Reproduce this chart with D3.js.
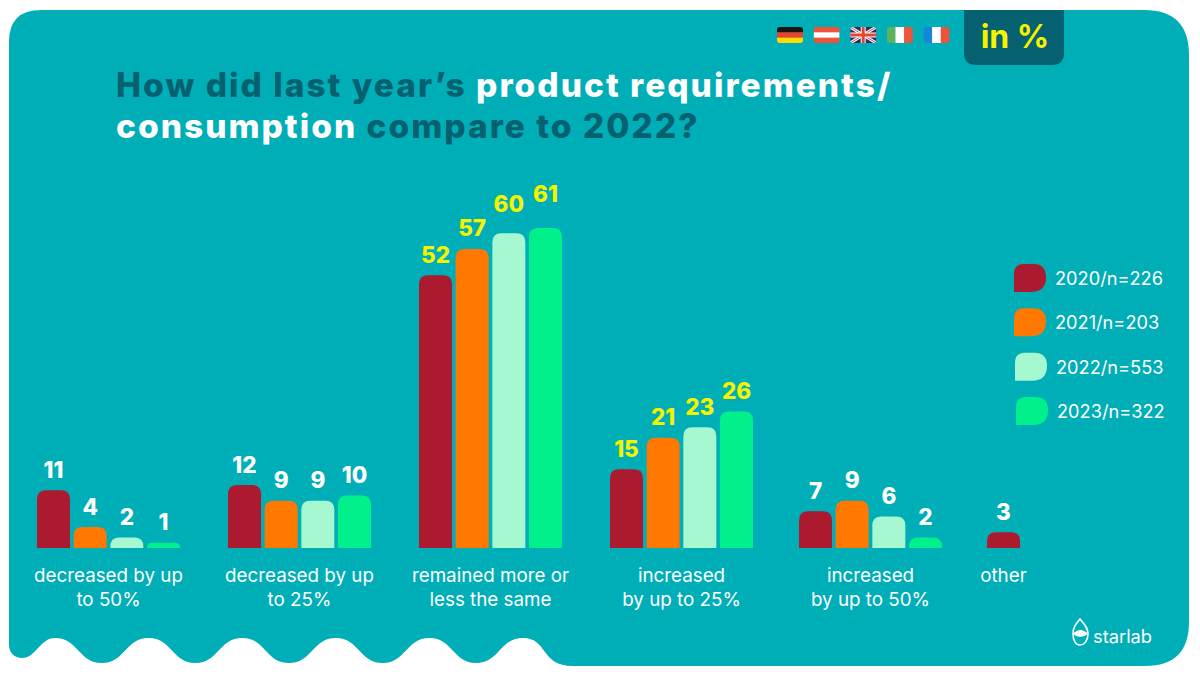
<!DOCTYPE html>
<html><head><meta charset="utf-8">
<script src="https://cdnjs.cloudflare.com/ajax/libs/d3/7.8.5/d3.min.js"></script>
<style>html,body{margin:0;padding:0;background:#fff}svg{display:block}</style>
</head><body><svg id="c" width="1200" height="675"></svg>
<script>
const categories = [["decreased by up","to 50%"],["decreased by up","to 25%"],["remained more or","less the same"],["increased","by up to 25%"],["increased","by up to 50%"],["other"]];
const years = ["2020/n=226","2021/n=203","2022/n=553","2023/n=322"];
const v2020 = [11,12,52,15,7,3];
const v2021 = [4,9,57,21,9,null];
const v2022 = [2,9,60,23,6,null];
const v2023 = [1,10,61,26,2,null];
const seriesValues = [v2020,v2021,v2022,v2023];
const colors = ["#AC1A2F","#FF7800","#A5F8CF","#00F18B"];
const flagsList = ["de","at","uk","it","fr"];
const highlighted = [2,3];

const svg = d3.select("#c");
const BG="#00AEB8", DARK="#05606F", YEL="#F4F400";
const TF="Inter, sans-serif", LF="Inter, sans-serif";

// panel with wavy bottom edge
let p = d3.path();
p.moveTo(9,42); p.quadraticCurveTo(9,10,41,10); p.lineTo(1144,10); p.quadraticCurveTo(1189,10,1189,55);
p.lineTo(1189,622); p.quadraticCurveTo(1189,666,1145,666); p.lineTo(573,666);
p.bezierCurveTo(540,666,548,638,523,638);
const period=93.6, half=period/2;
for(let i=0;i<5;i++){
  const x=523-period*i;
  p.bezierCurveTo(x-half*0.5,638,x-half*0.5,663,x-half,663);
  p.bezierCurveTo(x-half*1.5,663,x-half*1.5,638,x-period,638);
}
p.bezierCurveTo(40,638,36,658,22,658);
p.bezierCurveTo(14,658,9,652,9,645);
p.closePath();
svg.append("path").attr("d",p.toString()).attr("fill",BG);

// tab
svg.append("path").attr("d","M964,10H1064V53Q1064,65 1052,65H976Q964,65 964,53Z").attr("fill",DARK);
svg.append("text").attr("x",1015).attr("y",48).attr("text-anchor","middle").attr("font-family",TF).attr("font-weight",700).attr("font-size",32).attr("fill",YEL).text("in %");

// flags
const flagX = d3.scaleBand().domain(flagsList).range([777,960]).paddingInner(0);
const defs = svg.append("defs");
flagsList.forEach(f=>{
  const x=flagX(f), w=26, h=16, y=27;
  defs.append("clipPath").attr("id","cl-"+f).append("rect").attr("x",x).attr("y",y).attr("width",w).attr("height",h).attr("rx",3);
  const g=svg.append("g").attr("clip-path",`url(#cl-${f})`);
  const H=(c,i,n)=>g.append("rect").attr("x",x).attr("y",y+h*i/n).attr("width",w).attr("height",h/n+.3).attr("fill",c);
  const V=(c,i,n)=>g.append("rect").attr("x",x+w*i/n).attr("y",y).attr("width",w/n+.3).attr("height",h).attr("fill",c);
  if(f==="de"){H("#1a1412",0,3);H("#E8432E",1,3);H("#FFDD00",2,3);}
  if(f==="at"){H("#F0533A",0,3);H("#fff",1,3);H("#F0533A",2,3);}
  if(f==="it"){V("#5CB35C",0,3);V("#fff",1,3);V("#F0533A",2,3);}
  if(f==="fr"){V("#1487DC",0,3);V("#fff",1,3);V("#F0533A",2,3);}
  if(f==="uk"){
    H("#1E2F6B",0,1);
    const L=(a,b,c,d,col,sw)=>g.append("line").attr("x1",a).attr("y1",b).attr("x2",c).attr("y2",d).attr("stroke",col).attr("stroke-width",sw);
    L(x,y,x+w,y+h,"#fff",3);L(x,y+h,x+w,y,"#fff",3);
    L(x,y,x+w,y+h,"#E8432E",1);L(x,y+h,x+w,y,"#E8432E",1);
    L(x+w/2,y,x+w/2,y+h,"#fff",5);L(x,y+h/2,x+w,y+h/2,"#fff",5);
    L(x+w/2,y,x+w/2,y+h,"#E8432E",3);L(x,y+h/2,x+w,y+h/2,"#E8432E",3);
  }
});

// title
const tt=svg.append("g").attr("font-family",TF).attr("font-weight",800).attr("font-size",33.5).attr("letter-spacing",2);
const l1=tt.append("text").attr("x",116).attr("y",96.5);
l1.append("tspan").attr("fill",DARK).text("How did last year’s ");
l1.append("tspan").attr("fill","#fff").text("product requirements/");
const l2=tt.append("text").attr("x",116).attr("y",138);
l2.append("tspan").attr("fill","#fff").text("consumption ");
l2.append("tspan").attr("fill",DARK).text("compare to 2022?");

// scales
const x0=d3.scaleOrdinal().domain(d3.range(categories.length)).range([37,228,419,610,799,987]);
const x1=d3.scaleBand().domain(d3.range(seriesValues.length)).range([0,143]).paddingInner(0.1);
const y=d3.scaleLinear().domain([0,61]).range([548,228]);

function barPath(x,yt,w,yb){
  const r=Math.min(9,yb-yt);
  return `M${x},${yb}V${yt+r}Q${x},${yt} ${x+r},${yt}H${x+w-r}Q${x+w},${yt} ${x+w},${yt+r}V${yb}Z`;
}
seriesValues.forEach((vals,s)=>{
  const g=svg.append("g");
  vals.forEach((v,c)=>{
    if(v===null) return;
    const bx=x0(c)+x1(s), w=x1.bandwidth();
    const lift = v===61?26:v===60?21:12.5;
    g.append("path").attr("d",barPath(bx,y(v),w,y(0))).attr("fill",colors[s]);
    g.append("text").attr("x",bx+w/2).attr("y",y(v)-lift).attr("text-anchor","middle")
      .attr("font-family",TF).attr("font-weight",800).attr("font-size",22.5)
      .attr("fill",highlighted.includes(c)?YEL:"#fff").text(v);
  });
});

// category labels
categories.forEach((lines,c)=>{
  const n=seriesValues.filter(s=>s[c]!==null).length;
  const cx=x0(c)+(n===1?x1.bandwidth()/2:(x1(n-1)+x1.bandwidth())/2);
  lines.forEach((t,i)=>svg.append("text").attr("x",cx).attr("y",582+i*24).attr("text-anchor","middle")
    .attr("font-family",LF).attr("font-size",18.8).attr("fill","#fff").text(t));
});

// legend
const ly=d3.scalePoint().domain(years).range([278,411]);
years.forEach((t,i)=>{
  const yc=ly(t), xs=1014+(i>1?i-1:0);
  svg.append("path").attr("d",`M${xs},${yc+14}V${yc-4}Q${xs},${yc-14} ${xs+10},${yc-14}H${xs+19}Q${xs+32},${yc-14} ${xs+32},${yc-1}Q${xs+32},${yc+14} ${xs+17},${yc+14}Z`).attr("fill",colors[i]);
  svg.append("text").attr("x",xs+41).attr("y",yc+7).attr("font-family",LF).attr("font-size",18.2).attr("fill","#fff").text(t);
});

// logo
const lg=svg.append("g");
lg.append("path").attr("d","M1080,619C1076,624 1073,627 1073,634C1073,641 1076,645 1080,645C1084,645 1088,641 1088,634C1088,627 1084,624 1080,619Z").attr("fill","none").attr("stroke","#fff").attr("stroke-width",1.6);
lg.append("path").attr("d","M1073,634Q1080,626 1088,634Q1080,640 1073,634Z").attr("fill","#fff");
lg.append("text").attr("x",1093).attr("y",643).attr("font-family","Inter, sans-serif").attr("font-size",18.3).attr("fill","#fff").text("starlab");
</script></body></html>
